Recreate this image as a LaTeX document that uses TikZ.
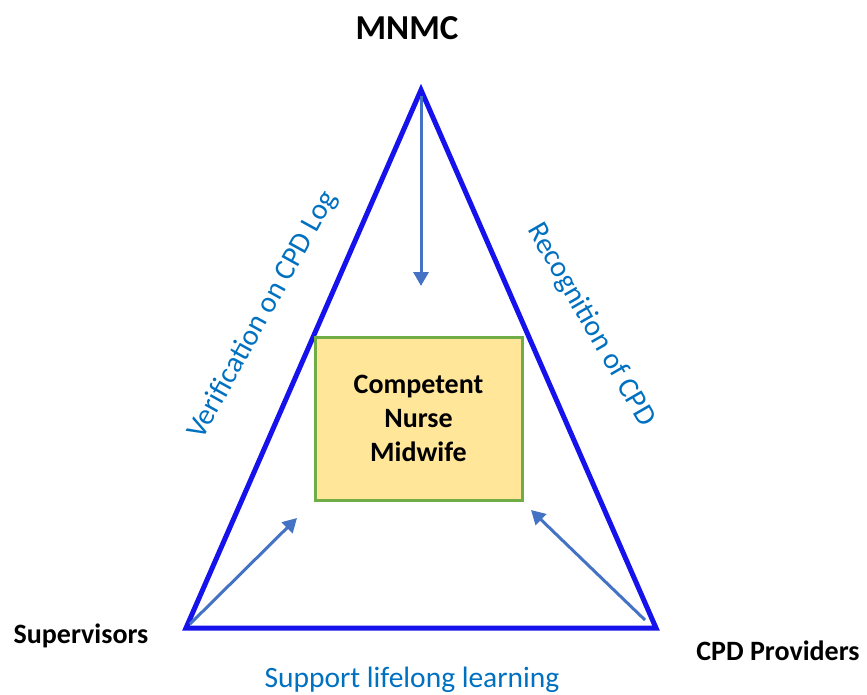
\documentclass[tikz,border=0pt]{standalone}
\usepackage{fontspec}
\setmainfont{Carlito}
\usepackage{tikz}
\usetikzlibrary{positioning}
\usetikzlibrary{arrows.meta}
\definecolor{sideblue}{RGB}{22,18,235}
\definecolor{linkblue}{RGB}{68,114,196}
\definecolor{roleblue}{RGB}{0,112,192}
\definecolor{nursefill}{RGB}{255,230,153}
\definecolor{nurseline}{RGB}{112,173,71}

\begin{document}
\begin{tikzpicture}[x=1pt,y=-1pt,inner sep=0pt,
		side/.style={draw=sideblue,line width=5pt},
		link/.style={draw=linkblue,line width=3pt,-{Triangle[length=14pt,width=15pt]}},
		party/.style={font=\bfseries\fontsize{28}{30}\selectfont},
		role/.style={text=roleblue,font=\fontsize{29.5}{32}\selectfont}]
		\useasboundingbox (0,0) rectangle (867,695);
		% corners of the triangle
		\coordinate (top) at (421,90);
		\coordinate (left) at (186,628);
		\coordinate (right) at (656,628);
		\draw [side] (top) -- (left) -- (right) -- cycle;
		\node [draw=nurseline,fill=nursefill,line width=3pt,minimum width=207pt,minimum height=163pt,
			align=center,font=\bfseries\fontsize{28}{34}\selectfont] (nurse) at (418.5,418.5) {Competent\\Nurse\\Midwife};
		\node [party,font=\bfseries\fontsize{35}{38}\selectfont] (mnmc) at (407,28) {MNMC};
		\node [party] (supervisors) at (81,636) {Supervisors};
		\node [party] (providers) at (778,651) {CPD Providers};
		\node [role,rotate=61] (verify) at (263,315) {Verification on CPD Log};
		\node [role,rotate=-60] (recognise) at (591,325) {Recognition of CPD};
		\node [role] (support) at (412,680) {Support lifelong learning};
		% arrows into the middle
		\coordinate (topend) at (421,286);
		\coordinate (leftend) at (297,518);
		\coordinate (rightend) at (531,510);
		\coordinate (topstart) at (421,96);
		\coordinate (leftstart) at (190,624);
		\coordinate (rightstart) at (645,620);
		\foreach \n in {top,left,right}
			\draw [link] (\n start) -- (\n end);
	\end{tikzpicture}
\end{document}
